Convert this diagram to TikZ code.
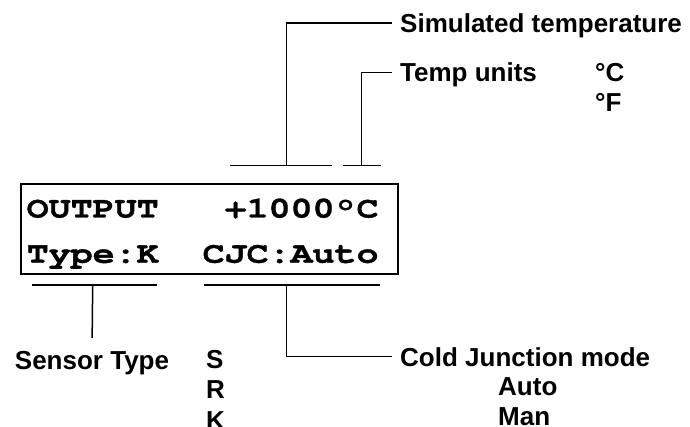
\documentclass[tikz,border=0pt]{standalone}
\usepackage{fontspec}
\setmainfont{Liberation Sans}
\newfontfamily\lcdfont{texgyrecursor-bold.otf}[FakeStretch=1.23, FakeBold=1.2]
\usetikzlibrary{positioning}

\begin{document}
\begin{tikzpicture}[
  x=1pt, y=-1pt,
  lcdbox/.style={
    rectangle, draw, line width=2pt, minimum width=376.8pt,
    minimum height=89.5pt, inner sep=0pt
  },
  lcdtext/.style={anchor=base west, inner sep=0pt,
    font=\lcdfont\fontsize{29.8}{34}\selectfont},
  lbl/.style={anchor=base west, inner xsep=8pt, inner ysep=0pt,
    text depth=0pt, font=\fontsize{26}{30}\selectfont\bfseries},
  opt/.style={anchor=base west, inner sep=0pt,
    font=\fontsize{26}{30}\selectfont\bfseries},
  lead/.style={line width=1.5pt}
]
  \useasboundingbox (0,0) rectangle (690,427);

  % Display
  \node[lcdbox] (lcd) at (209.1,228.8) {};
  \node[lcdtext] (row1) at (26.5,217.5) {OUTPUT~~~+1000°C};
  \node[lcdtext] (row2) at (26.5,262.7) {Type:K~~CJC:Auto};

  % Bracket ends above and below the display
  \coordinate (tempL) at (230,165.7);
  \coordinate (tempR) at (331.7,165.7);
  \coordinate (tempM) at (286.7,165.7);
  \coordinate (unitL) at (342.7,165.7);
  \coordinate (unitR) at (381,165.7);
  \coordinate (unitM) at (361.7,165.7);
  \coordinate (typeL) at (31.7,285);
  \coordinate (typeR) at (156.7,285);
  \coordinate (typeM) at (92.7,285);
  \coordinate (cjcL) at (204,285);
  \coordinate (cjcR) at (380,285);
  \coordinate (cjcM) at (286.7,285);

  % Labels
  \node[lbl] (simlbl) at (392,32.5) {Simulated temperature};
  \node[lbl] (unitlbl) at (392,82) {Temp units};
  \node[opt] (degC) at (595,82) {°C};
  \node[opt] (degF) at ([yshift=-30pt]degC.base west) {°F};

  \node[opt, anchor=base] (sensorlbl) at (92,369.3) {Sensor Type};
  \node[opt] (optS) at (206,368) {S};
  \node[opt] (optR) at ([yshift=-30.5pt]optS.base west) {R};
  \node[opt] (optK) at ([yshift=-30.5pt]optR.base west) {K};

  \node[lbl] (cjclbl) at (392,366) {Cold Junction mode};
  \node[opt] (cjcauto) at (498,395.5) {Auto};
  \node[opt] (cjcman) at ([yshift=-30pt]cjcauto.base west) {Man};

  % Leader lines
  \draw[lead] (tempL) -- (tempR);
  \draw[lead] (tempM) |- (simlbl.west);
  \draw[lead] (unitL) -- (unitR);
  \draw[lead] (unitM) |- (unitlbl.west);
  \draw[lead] (typeL) -- (typeR);
  \draw[lead, shorten >=13pt] (typeM) -- (sensorlbl.north);
  \draw[lead] (cjcL) -- (cjcR);
  \draw[lead] (cjcM) |- (cjclbl.west);
\end{tikzpicture}
\end{document}
